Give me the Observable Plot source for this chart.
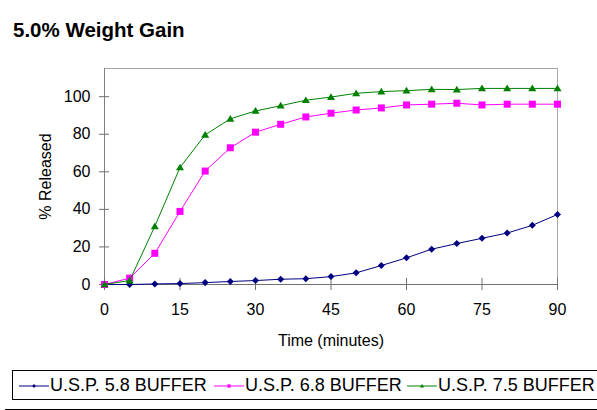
<!DOCTYPE html>
<html>
<head>
<meta charset="utf-8">
<script src="https://cdn.jsdelivr.net/npm/d3@7"></script>
<script src="https://cdn.jsdelivr.net/npm/@observablehq/plot@0.6"></script>
<style>
  html, body { margin: 0; padding: 0; background: #fff; }
  body { width: 597px; height: 410px; position: relative; overflow: hidden; font-family: "Liberation Sans", Arial, sans-serif; }
  #title { font-weight: bold; font-size: 20.5px; line-height: 24px; padding: 18px 0 0 13px; height: 24px; }
  #chart svg { display: block; }
  #legend { position: absolute; left: 12px; top: 370px; width: 620px; height: 28px; border: 1px solid #000; }
  .item { position: absolute; top: 0; height: 29px; display: flex; align-items: center; font-size: 18px; color: #000; white-space: nowrap; }
  .item svg { display: block; margin-right: 1px; }
  #rule { position: absolute; left: 5px; top: 409px; width: 600px; height: 1px; background: #000; }
</style>
</head>
<body>
<div id="title">5.0% Weight Gain</div>
<div id="chart"></div>
<div id="legend"></div>
<div id="rule"></div>
<script>
const time = [0, 5, 10, 15, 20, 25, 30, 35, 40, 45, 50, 55, 60, 65, 70, 75, 80, 85, 90];
const usp58 = [0, 0, 0.3, 0.5, 1, 1.6, 2.1, 2.8, 3.1, 4.2, 6.2, 10.1, 14.2, 18.8, 21.8, 24.6, 27.4, 31.5, 37.3];
const usp68 = [0, 3.4, 16.6, 38.9, 60.4, 72.8, 81.1, 85.3, 89.2, 91.2, 92.9, 94, 95.6, 96, 96.5, 95.6, 96, 96, 96];
const usp75 = [0, 2.1, 31, 62.3, 79.7, 88.2, 92.4, 95.2, 98.1, 99.8, 101.8, 102.7, 103.2, 103.9, 103.8, 104.4, 104.4, 104.4, 104.4];
const seriesNames = ["U.S.P. 5.8 BUFFER", "U.S.P. 6.8 BUFFER", "U.S.P. 7.5 BUFFER"];
const seriesColors = ["#000080", "#ff00ff", "#008000"];
const xTicks = [0, 15, 30, 45, 60, 75, 90];
const yTicks = [0, 20, 40, 60, 80, 100];

const diamondSym = {draw(ctx, size) { const r = Math.sqrt(size) * 0.55; ctx.moveTo(0, -r); ctx.lineTo(r, 0); ctx.lineTo(0, r); ctx.lineTo(-r, 0); ctx.closePath(); }};
const squareSym = {draw(ctx, size) { const r = Math.sqrt(size) * 0.55; ctx.rect(-r, -r, 2 * r, 2 * r); }};
const triSym = {draw(ctx, size) { const r = Math.sqrt(size) * 0.6; ctx.moveTo(0, -r); ctx.lineTo(r * 1.05, r * 0.75); ctx.lineTo(-r * 1.05, r * 0.75); ctx.closePath(); }};
const symbols = [diamondSym, squareSym, triSym];

const allSeries = [usp58, usp68, usp75];
const rows = allSeries.flatMap((vals, s) => time.map((t, i) => ({t, v: vals[i], s: seriesNames[s]})));

const lineMarks = seriesNames.flatMap((name, s) => {
  const d = rows.filter(r => r.s === name);
  return [
    Plot.line(d, {x: "t", y: "v", stroke: seriesColors[s], strokeWidth: 1}),
    Plot.dot(d, {x: "t", y: "v", fill: seriesColors[s], stroke: "none", r: 3.6, symbol: symbols[s]})
  ];
});

const plot = Plot.plot({
  width: 597,
  height: 318,
  marginLeft: 104,
  marginRight: 40,
  marginTop: 26,
  marginBottom: 76,
  style: {fontFamily: '"Liberation Sans", Arial, sans-serif', fontSize: "16px", color: "#000", background: "#fff"},
  x: {domain: [0, 90]},
  y: {domain: [0, 115]},
  marks: [
    Plot.frame({stroke: "#a8a8a8"}),
    Plot.ruleX([0], {stroke: "#808080"}),
    Plot.ruleY([0], {stroke: "#707070"}),
    Plot.ruleY(yTicks, {y: d => d, x1: 0, x2: 0, insetLeft: -5, insetRight: -5, stroke: "#707070"}),
    Plot.ruleX(xTicks, {x: d => d, y1: 0, y2: 0, insetTop: -6, insetBottom: -6, stroke: "#707070"}),
    Plot.axisY({ticks: yTicks, tickSize: 0, tickPadding: 14, fontSize: 16, label: "% Released", labelAnchor: "center", labelArrow: "none", labelOffset: 65}),
    Plot.axisX({ticks: xTicks, tickSize: 0, tickPadding: 19, fontSize: 16, label: "Time (minutes)", labelAnchor: "center", labelArrow: "none", labelOffset: 61}),
    ...lineMarks
  ]
});
document.getElementById("chart").appendChild(plot);

// legend
const legend = document.getElementById("legend");
const lefts = [6, 201, 394];
seriesNames.forEach((name, s) => {
  const item = document.createElement("div");
  item.className = "item";
  item.style.left = lefts[s] + "px";
  const path = d3.path();
  const sz = [12, 9, 11][s];
  symbols[s].draw(path, sz);
  item.innerHTML = `<svg width="30" height="10" viewBox="-15 -5 30 10"><line x1="-15" x2="15" y1="0" y2="0" stroke="${seriesColors[s]}" stroke-width="1"/><path d="${path.toString()}" fill="${seriesColors[s]}"/></svg><span>${name}</span>`;
  legend.appendChild(item);
});
</script>
</body>
</html>
